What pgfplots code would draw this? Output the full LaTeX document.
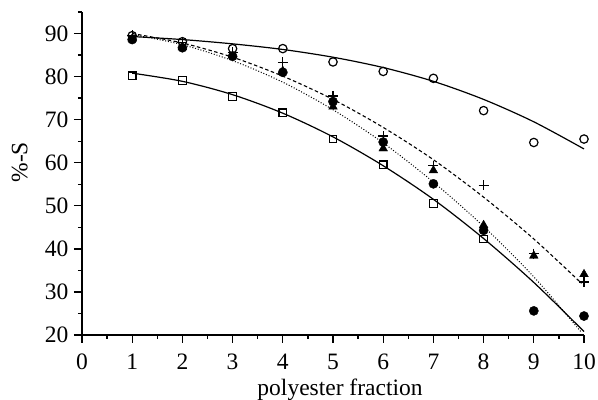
\documentclass[border=0pt]{standalone}
\usepackage{fontspec}
\setmainfont{Liberation Serif}
\usepackage{pgfplots}
\pgfplotsset{compat=1.18}
\begin{document}
\fontsize{23.5}{27}\selectfont
\begin{tikzpicture}
\begin{axis}[name=ax, scale only axis, width=502pt, height=323pt,
 xmin=0, xmax=10, ymin=20, ymax=95,
 axis x line=bottom, axis y line=left,
 axis line style={-, line width=1.6pt},
 xtick={0,1,...,10}, ytick={20,30,...,90},
 minor xtick={0.5,1.5,...,9.5}, minor ytick={25,35,...,95},
 tick align=outside, major tick length=8pt, minor tick length=4pt,
 every tick/.style={black, line width=1.3pt},
 tick label style={font=\fontsize{23.5}{27}\selectfont},
 yticklabel style={xshift=2.5pt},
 xticklabel style={yshift=-3pt},
 label style={font=\fontsize{23.5}{27}\selectfont},
 /pgf/number format/assume math mode=true,
 xlabel={polyester fraction}, ylabel={\%-S},
 xlabel style={at={(axis description cs:0.514,0)}, anchor=base, yshift=-61pt},
 ylabel style={at={(axis description cs:-0.124,0.535)}, anchor=center},
 clip=false,
]
% fitted curves
\addplot[black, line width=1.2pt, smooth] coordinates {(1,89.3)(2,88.6)(3,87.6)(4,86.3)(5,84.5)(6,82.1)(7,78.9)(8,74.7)(9,69.5)(10,63.2)};
\addplot[black, line width=1.2pt, smooth] coordinates {(1,80.8)(2,78.9)(3,75.8)(4,71.5)(5,66.0)(6,59.3)(7,51.5)(8,42.4)(9,32.2)(10,20.8)};
\addplot[black, line width=1.1pt, smooth, dash pattern=on 3.5pt off 2.5pt] coordinates {(1,90.0)(2,87.8)(3,84.5)(4,80.1)(5,74.7)(6,68.2)(7,60.7)(8,52.0)(9,42.3)(9.95,32.0)};
\addplot[black, line width=1.0pt, smooth, dash pattern=on 1pt off 1.8pt] coordinates {(1,89.8)(2,87.4)(3,83.7)(4,78.7)(5,72.3)(6,64.6)(7,55.5)(8,45.2)(9,33.5)(9.95,20.6)};
% data
\addplot[black, only marks, mark=o, mark size=4.2pt, mark options={line width=1.2pt}] coordinates {(1,89.5)(2,88.1)(3,86.5)(4,86.5)(5,83.4)(6,81.2)(7,79.6)(8,72.1)(9,64.7)(10,65.5)};
\addplot[black, only marks, mark=square, mark size=3.8pt, mark options={line width=1.2pt}] coordinates {(1,80.2)(2,79.1)(3,75.4)(4,71.6)(5,65.5)(6,59.5)(7,50.5)(8,42.3)};
\addplot[black, only marks, mark=triangle*, mark size=5pt] coordinates {(1,88.8)(2,86.8)(3,84.9)(4,81.3)(5,73.0)(6,63.3)(7,58.2)(8,45.5)(9,38.4)(10,34.1)};
\addplot[black, only marks, mark=*, mark size=4.6pt] coordinates {(1,88.6)(2,86.7)(3,84.7)(4,81.0)(5,74.2)(6,64.8)(7,55.1)(8,44.3)(9,25.6)(10,24.4)};
\addplot[black, only marks, mark=+, mark size=5pt, mark options={line width=1.2pt}] coordinates {(1,89.6)(2,88.0)(3,85.6)(4,83.3)(5,75.5)(6,66.2)(7,59.3)(8,54.8)(9,38.9)(10,32.3)};
\end{axis}
\pgfresetboundingbox
\path[use as bounding box] ([shift={(-82pt,-65pt)}]ax.south west) rectangle ([shift={(14pt,12pt)}]ax.north east);
\end{tikzpicture}
\end{document}
